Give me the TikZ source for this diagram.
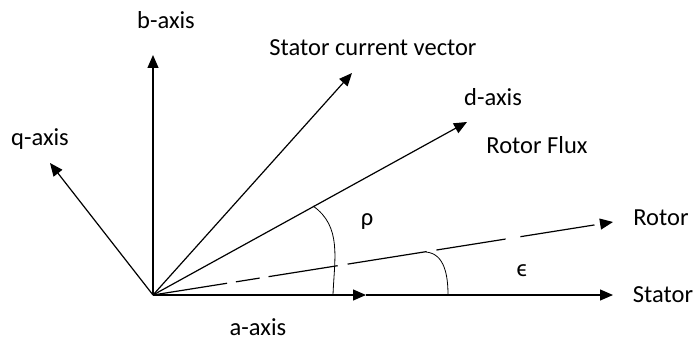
\documentclass[tikz,border=0pt]{standalone}
\usepackage{fontspec}
\setmainfont{Carlito}
\usetikzlibrary{arrows.meta}
\begin{document}
\begin{tikzpicture}[x=1pt,y=-1pt,
  vec/.style={line width=1.2pt,-{Triangle[length=13pt,width=11pt]}},
  arcline/.style={line width=0.8pt},
  lbl/.style={font=\fontsize{24.5}{28}\selectfont,inner sep=0pt}]
\useasboundingbox (0,0) rectangle (693,342);
\coordinate (O) at (153,295);
\coordinate (btip) at (153,55);
\coordinate (qtip) at (50,163);
\coordinate (itip) at (352,73);
\coordinate (dtip) at (467,122);
\coordinate (rtip) at (613,222);
\coordinate (smid) at (366,295);
\coordinate (stip) at (613,295);
% vectors
\draw[vec] (O) -- (btip);
\draw[vec] (O) -- (qtip);
\draw[vec] (O) -- (itip);
\draw[vec] (O) -- (dtip);
\draw[vec,dash pattern=on 75pt off 9pt on 24pt off 9pt on 70pt off 10pt on 80pt off 10pt on 70pt off 15pt] (O) -- (rtip);
\draw[vec] (O) -- (smid);
\draw[vec] (smid) -- (stip);
% angle arcs
\coordinate (rho1) at (313,206);
\coordinate (rho2) at (333,295);
\draw[arcline] (rho1) to[out=-35,in=88] (rho2);
\coordinate (eps1) at (426,252);
\coordinate (eps2) at (448,295);
\draw[arcline] (eps1) to[out=-5,in=90] (eps2);
% labels
\node[lbl] (lb) at (166,20) {b-axis};
\node[lbl] (lq) at (40,139) {q-axis};
\node[lbl] (li) at (373,48) {Stator current vector};
\node[lbl] (ld) at (493,97) {d-axis};
\node[lbl] (lf) at (537,145) {Rotor Flux};
\node[lbl] (lr) at (661,218) {Rotor};
\node[lbl] (ls) at (663,295) {Stator};
\node[lbl] (la) at (258,327) {a-axis};
\node[lbl] (lrho) at (367,222) {ρ};
\node[lbl] (leps) at (522,271) {ϵ};
\end{tikzpicture}
\end{document}
